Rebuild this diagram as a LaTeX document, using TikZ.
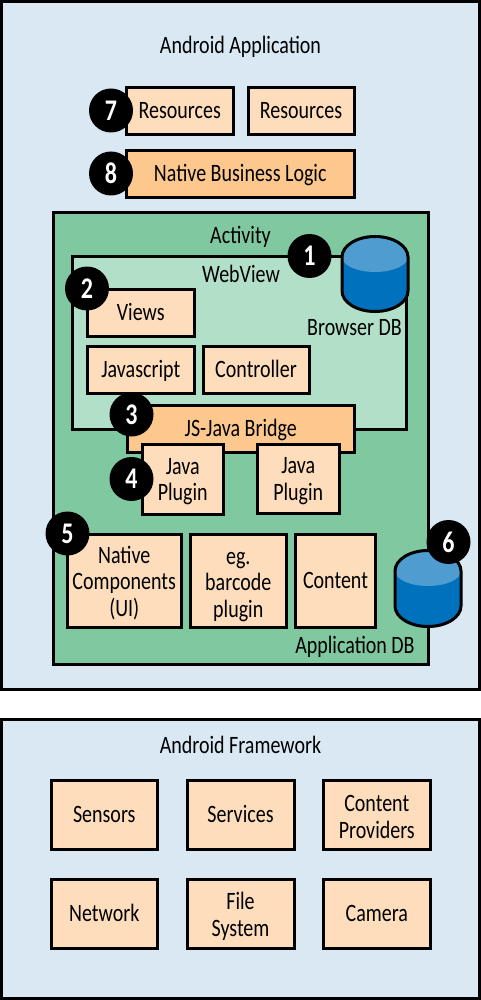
\documentclass[tikz,border=0pt]{standalone}
\usepackage{fontspec}
\setmainfont[FakeStretch=0.8]{Carlito}
\definecolor{paleblue}{HTML}{D9E8F3}
\definecolor{midgreen}{HTML}{80C8A0}
\definecolor{palegreen}{HTML}{B2DFC7}
\definecolor{peach}{HTML}{FDDDBB}
\definecolor{darkpeach}{HTML}{FCC88E}
\definecolor{dbdark}{HTML}{0071BC}
\definecolor{dblight}{HTML}{4F9CD0}
\newcommand{\linestrut}{\rule[-.2\baselineskip]{0pt}{\baselineskip}}
\newcommand{\sunk}[1]{\rule{0pt}{#1}}
\tikzset{
  panel/.style={draw=black,line width=3pt,inner sep=0pt,outer sep=0pt},
  box/.style={panel,fill=peach,align=center,font=\fontsize{25}{26.5}\selectfont,execute at begin node=\linestrut,execute at end node=\linestrut},
  label/.style={font=\fontsize{25}{26.5}\selectfont,inner sep=0pt,execute at begin node=\linestrut},
  badge/.style={circle,fill=black,text=white,minimum size=44pt,inner sep=0pt,font=\fontsize{30}{30}\selectfont\bfseries},
  dbline/.style={draw=black,line width=3pt}
}
\begin{document}
\begin{tikzpicture}[x=1pt,y=-1pt]
\useasboundingbox (0,0) rectangle (481,1000);
%outer panels
\node[panel,fill=paleblue,minimum width=478pt,minimum height=688pt] (app) at (240.5,345.5) {};
\node[panel,fill=paleblue,minimum width=478pt,minimum height=279pt] (framework) at (240.5,859) {};
\node[label] (apptitle) at (240.5,46) {Android Application};
\node[label] (frametitle) at (240.5,746) {Android Framework};
%top row
\node[box,minimum width=106.5pt,minimum height=47pt] (resa) at (179.75,111) {Resources};
\node[box,minimum width=106pt,minimum height=47pt] (resb) at (301,111) {Resources};
\node[box,fill=darkpeach,minimum width=227.5pt,minimum height=47pt] (logic) at (240.25,174) {Native Business Logic};
%activity
\node[panel,fill=midgreen,minimum width=375pt,minimum height=451.5pt] (activity) at (240.5,438.25) {};
\node[label] (activitytitle) at (240.5,236) {Activity};
%webview
\node[panel,fill=palegreen,minimum width=334pt,minimum height=172.5pt] (webview) at (239,342.75) {};
\node[label] (webtitle) at (241,275) {WebView};
\node[box,minimum width=106.5pt,minimum height=47pt] (views) at (140.75,313) {Views};
\node[box,minimum width=106.5pt,minimum height=47pt] (script) at (140.75,369.5) {Javascript};
\node[box,minimum width=106pt,minimum height=47pt] (controller) at (256,369.5) {Controller};
%browser db
\fill[dbdark] (342,257) arc[start angle=180,end angle=0,x radius=33pt,y radius=20.5pt] -- (408,291) arc[start angle=0,end angle=-180,x radius=33pt,y radius=20.5pt] -- cycle;
\fill[dblight] (342,257) arc[start angle=180,end angle=0,x radius=33pt,y radius=20.5pt] arc[start angle=0,end angle=-180,x radius=33pt,y radius=15pt] -- cycle;
\draw[dbline] (342,257) arc[start angle=180,end angle=0,x radius=33pt,y radius=20.5pt] -- (408,291) arc[start angle=0,end angle=-180,x radius=33pt,y radius=20.5pt] -- cycle;
\node[label] (browserdb) at (354.5,328) {Browser DB};
%bridge and plugins
\node[box,fill=darkpeach,minimum width=227.5pt,minimum height=47pt] (bridge) at (240.75,429) {JS-Java Bridge};
\node[box,minimum width=80.5pt,minimum height=70.5pt] (plugina) at (182.75,479.25) {\sunk{21.3pt}Java\\Plugin};
\node[box,minimum width=81.5pt,minimum height=68.5pt] (pluginb) at (298.25,478.75) {\sunk{21.3pt}Java\\Plugin};
%native row
\node[box,minimum width=114.5pt,minimum height=93pt] (native) at (124.25,580.5) {\sunk{24pt}Native\\Components\\(UI)};
\node[box,minimum width=95.5pt,minimum height=93pt] (barcode) at (238.25,580.5) {\sunk{25.3pt}eg.\\barcode\\plugin};
\node[box,minimum width=80pt,minimum height=93pt] (content) at (335.5,580.5) {Content};
%application db
\fill[dbdark] (395,571) arc[start angle=180,end angle=0,x radius=33pt,y radius=20.5pt] -- (461,606) arc[start angle=0,end angle=-180,x radius=33pt,y radius=20.5pt] -- cycle;
\fill[dblight] (395,571) arc[start angle=180,end angle=0,x radius=33pt,y radius=20.5pt] arc[start angle=0,end angle=-180,x radius=33pt,y radius=15pt] -- cycle;
\draw[dbline] (395,571) arc[start angle=180,end angle=0,x radius=33pt,y radius=20.5pt] -- (461,606) arc[start angle=0,end angle=-180,x radius=33pt,y radius=20.5pt] -- cycle;
\node[label] (appdb) at (355,646) {Application DB};
%framework boxes
\node[box,minimum width=106.5pt,minimum height=69pt] (sensors) at (104.25,814.5) {Sensors};
\node[box,minimum width=107pt,minimum height=69pt] (services) at (240.5,814.5) {Services};
\node[box,minimum width=106.5pt,minimum height=69pt] (providers) at (376.75,814.5) {\sunk{26.7pt}Content\\Providers};
\node[box,minimum width=106.5pt,minimum height=69.5pt] (network) at (104.25,913.75) {Network};
\node[box,minimum width=107pt,minimum height=69.5pt] (filesys) at (240.5,913.75) {\sunk{24pt}File\\System};
\node[box,minimum width=106.5pt,minimum height=69.5pt] (camera) at (376.75,913.75) {Camera};
%numbers
\node[badge] (one) at (309.5,256) {1};
\node[badge] (two) at (87,288.5) {2};
\node[badge] (three) at (131.5,414.5) {3};
\node[badge] (four) at (131.5,479) {4};
\node[badge] (five) at (67.5,533.5) {5};
\node[badge] (six) at (448.5,542) {6};
\node[badge] (seven) at (111,110.5) {7};
\node[badge] (eight) at (111,173.5) {8};
\end{tikzpicture}
\end{document}
